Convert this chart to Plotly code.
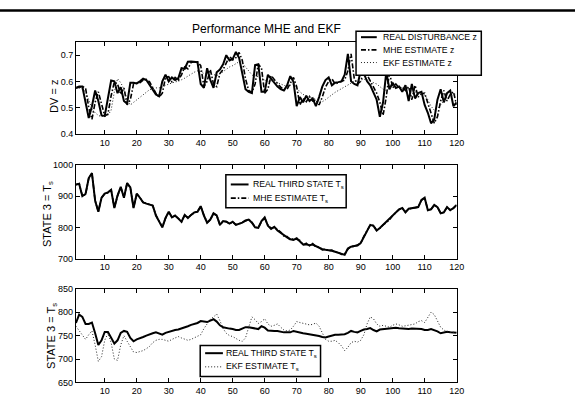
import plotly.graph_objects as go

# Sample index (time steps)
steps = list(range(1, 121))

# Disturbance z: true value, MHE estimate, EKF estimate
z_real = [0.575, 0.580, 0.580, 0.520, 0.460, 0.505, 0.565, 0.525, 0.470, 0.468,
          0.530, 0.603, 0.600, 0.555, 0.578, 0.525, 0.515, 0.595, 0.595, 0.592,
          0.600, 0.610, 0.605, 0.585, 0.565, 0.550, 0.543, 0.600, 0.625, 0.600,
          0.615, 0.605, 0.612, 0.650, 0.648, 0.675, 0.676, 0.675, 0.673, 0.590,
          0.575, 0.650, 0.605, 0.575, 0.635, 0.645, 0.665, 0.700, 0.680, 0.685,
          0.712, 0.690, 0.630, 0.570, 0.560, 0.555, 0.662, 0.665, 0.560, 0.560,
          0.625, 0.610, 0.595, 0.580, 0.570, 0.565, 0.585, 0.620, 0.598, 0.505,
          0.540, 0.520, 0.545, 0.525, 0.535, 0.505, 0.540, 0.580, 0.605, 0.615,
          0.585, 0.595, 0.597, 0.600, 0.625, 0.705, 0.600, 0.590, 0.585, 0.640,
          0.630, 0.600, 0.585, 0.560, 0.530, 0.465, 0.520, 0.635, 0.570, 0.595,
          0.575, 0.580, 0.560, 0.585, 0.525, 0.590, 0.535, 0.555, 0.560, 0.510,
          0.480, 0.440, 0.455, 0.530, 0.570, 0.520, 0.555, 0.565, 0.505, 0.520]

z_mhe = [0.575, 0.578, 0.580, 0.575, 0.500, 0.455, 0.520, 0.560, 0.515, 0.468,
         0.475, 0.545, 0.598, 0.590, 0.550, 0.575, 0.510, 0.530, 0.590, 0.592,
         0.595, 0.605, 0.608, 0.598, 0.575, 0.555, 0.540, 0.555, 0.615, 0.618,
         0.598, 0.615, 0.605, 0.625, 0.655, 0.648, 0.672, 0.675, 0.675, 0.660,
         0.580, 0.600, 0.645, 0.590, 0.580, 0.630, 0.645, 0.668, 0.695, 0.682,
         0.690, 0.710, 0.680, 0.610, 0.565, 0.558, 0.590, 0.665, 0.650, 0.555,
         0.570, 0.622, 0.605, 0.592, 0.578, 0.568, 0.570, 0.592, 0.615, 0.580,
         0.510, 0.535, 0.522, 0.542, 0.525, 0.530, 0.510, 0.540, 0.578, 0.600,
         0.610, 0.590, 0.595, 0.598, 0.605, 0.640, 0.705, 0.610, 0.590, 0.600,
         0.635, 0.625, 0.600, 0.580, 0.555, 0.520, 0.470, 0.540, 0.635, 0.575,
         0.590, 0.575, 0.578, 0.565, 0.580, 0.530, 0.585, 0.540, 0.553, 0.555,
         0.515, 0.475, 0.440, 0.465, 0.525, 0.565, 0.525, 0.550, 0.560, 0.510]

z_ekf = [0.575, 0.575, 0.570, 0.560, 0.530, 0.495, 0.480, 0.470, 0.465, 0.468,
         0.470, 0.490, 0.560, 0.610, 0.595, 0.570, 0.530, 0.510, 0.520, 0.530,
         0.540, 0.550, 0.560, 0.568, 0.572, 0.575, 0.575, 0.578, 0.585, 0.590,
         0.595, 0.598, 0.600, 0.605, 0.612, 0.620, 0.628, 0.635, 0.640, 0.638,
         0.630, 0.628, 0.630, 0.625, 0.622, 0.628, 0.638, 0.648, 0.655, 0.660,
         0.668, 0.675, 0.670, 0.655, 0.640, 0.625, 0.615, 0.620, 0.615, 0.605,
         0.600, 0.602, 0.600, 0.595, 0.588, 0.582, 0.580, 0.585, 0.590, 0.575,
         0.560, 0.550, 0.545, 0.540, 0.535, 0.530, 0.525, 0.522, 0.530, 0.540,
         0.550, 0.558, 0.565, 0.572, 0.580, 0.588, 0.595, 0.600, 0.602, 0.605,
         0.608, 0.605, 0.600, 0.595, 0.590, 0.580, 0.570, 0.565, 0.575, 0.580,
         0.585, 0.578, 0.575, 0.578, 0.570, 0.565, 0.560, 0.555, 0.552, 0.548,
         0.530, 0.505, 0.490, 0.495, 0.510, 0.525, 0.535, 0.545, 0.548, 0.552]

# Third state Ts with MHE running
ts_real_mhe = [937, 940, 900, 907, 958, 974, 885, 850, 895, 908,
               912, 920, 862, 902, 930, 895, 942, 928, 862, 908,
               895, 880, 876, 874, 870, 838, 820, 800, 830, 850,
               832, 838, 828, 818, 840, 830, 840, 848, 850, 868,
               838, 815, 825, 845, 838, 808, 820, 818, 812, 818,
               808, 812, 815, 822, 825, 815, 800, 798, 820, 832,
               805, 795, 802, 790, 782, 775, 768, 762, 760, 765,
               755, 745, 746, 743, 745, 740, 735, 730, 728, 727,
               725, 722, 718, 715, 712, 732, 738, 740, 742, 750,
               770, 792, 808, 805, 790, 798, 808, 815, 825, 838,
               848, 858, 862, 848, 860, 862, 862, 865, 888, 895,
               855, 858, 872, 865, 845, 848, 865, 855, 862, 872]

ts_mhe = [937, 940, 901, 906, 957, 973, 886, 851, 894, 908,
          911, 920, 863, 901, 929, 896, 941, 928, 863, 907,
          896, 880, 877, 873, 870, 839, 821, 801, 829, 850,
          833, 837, 829, 818, 839, 831, 840, 847, 851, 867,
          839, 816, 824, 844, 838, 809, 819, 819, 811, 818,
          809, 811, 816, 821, 825, 816, 801, 799, 819, 830,
          807, 797, 800, 793, 785, 772, 771, 760, 763, 762,
          758, 743, 749, 741, 748, 738, 737, 728, 731, 725,
          727, 720, 721, 713, 714, 730, 739, 739, 743, 749,
          771, 791, 807, 806, 790, 797, 808, 815, 824, 838,
          848, 857, 862, 849, 859, 862, 863, 865, 887, 894,
          856, 858, 871, 865, 846, 848, 864, 856, 861, 872]

# Third state Ts with EKF running
ts_real_ekf = [777, 795, 790, 775, 775, 778, 755, 730, 740, 758,
               758, 745, 733, 740, 756, 760, 758, 745, 738, 742,
               744, 747, 750, 753, 755, 757, 755, 752, 756, 758,
               761, 762, 763, 765, 768, 770, 773, 775, 777, 781,
               780, 779, 782, 785, 780, 772, 768, 766, 765, 764,
               762, 762, 765, 768, 768, 767, 765, 764, 770, 767,
               761, 760, 760, 760, 758, 757, 757, 757, 760, 758,
               756, 755, 754, 753, 752, 751, 749, 747, 746, 748,
               750, 752, 752, 752, 753, 756, 760, 758, 757, 760,
               763, 764, 766, 762, 759, 763, 764, 765, 766, 767,
               767, 766, 765, 764, 764, 765, 765, 765, 764, 762,
               762, 764, 762, 759, 755, 757, 758, 757, 756, 756]

ts_ekf = [770, 760, 752, 742, 752, 760, 730, 695, 705, 740,
          755, 735, 700, 697, 730, 750, 738, 725, 715, 714,
          716, 718, 722, 727, 735, 740, 742, 742, 740, 738,
          742, 745, 748, 745, 742, 740, 742, 745, 748, 752,
          765, 775, 785, 790, 796, 782, 765, 755, 750, 748,
          744, 740, 738, 745, 768, 790, 784, 776, 780, 786,
          775, 770, 772, 775, 768, 762, 760, 762, 770, 780,
          778, 776, 775, 773, 774, 777, 770, 755, 742, 738,
          738, 740, 735, 728, 718, 725, 735, 738, 736, 740,
          752, 775, 790, 786, 775, 770, 772, 770, 768, 772,
          775, 773, 770, 771, 772, 773, 775, 780, 782, 778,
          788, 800, 795, 780, 768, 762, 758, 757, 757, 757]

x_ticks = list(range(10, 121, 10))
W, H = 583, 405
FONT = "Liberation Sans, Arial, sans-serif"


def px_x(p):
    return p / W


def px_y(p):
    return 1 - p / H


solid = dict(color="black", width=2)
dashdot = dict(color="black", width=1.6, dash="5px,2px,1.5px,2px")
dotted = dict(color="#222222", width=1, dash="1px,2px")

fig = go.Figure()

series = [
    (z_real, solid, "x", "y"),
    (z_mhe, dashdot, "x", "y"),
    (z_ekf, dotted, "x", "y"),
    (ts_real_mhe, solid, "x2", "y2"),
    (ts_mhe, dashdot, "x2", "y2"),
    (ts_real_ekf, solid, "x3", "y3"),
    (ts_ekf, dotted, "x3", "y3"),
]
for vals, ln, xa, ya in series:
    fig.add_trace(go.Scatter(x=steps, y=vals, mode="lines", line=ln,
                             xaxis=xa, yaxis=ya, showlegend=False, hoverinfo="skip"))

axis_style = dict(showline=True, linecolor="black", linewidth=1, mirror="ticks",
                  ticks="inside", ticklen=4, tickcolor="black", tickwidth=1,
                  showgrid=False, zeroline=False,
                  tickfont=dict(family=FONT, size=9, color="black"))

x_dom = [px_x(77), px_x(463)]
panels = [  # (top px, bottom px)
    (38, 132),
    (164, 260),
    (291, 387),
]

layout = dict(
    width=W, height=H,
    margin=dict(l=0, r=0, t=0, b=0),
    paper_bgcolor="white", plot_bgcolor="white",
    font=dict(family=FONT, color="black"),
    showlegend=False,
)

y_specs = [
    dict(range=[0.4, 0.75], tickvals=[0.4, 0.5, 0.6, 0.7], ticktext=["0.4", "0.5", "0.6", "0.7"]),
    dict(range=[700, 1000], tickvals=[700, 800, 900, 1000]),
    dict(range=[650, 850], tickvals=[650, 700, 750, 800, 850]),
]

for i, ((top, bot), spec) in enumerate(zip(panels, y_specs), start=1):
    sfx = "" if i == 1 else str(i)
    layout["xaxis" + sfx] = dict(axis_style, domain=x_dom, range=[1, 120], tickvals=x_ticks,
                                 anchor="y" + sfx)
    ydict = dict(axis_style, domain=[px_y(bot), px_y(top)], range=spec["range"],
                 tickvals=spec["tickvals"], anchor="x" + sfx)
    if "ticktext" in spec:
        ydict["ticktext"] = spec["ticktext"]
    layout["yaxis" + sfx] = ydict

fig.update_layout(**layout)

# Axis titles (rotated)
y_titles = [
    ("DV = z", 54, 94),
    ("STATE 3 = T<sub>s</sub>", 48, 214),
    ("STATE 3 = T<sub>s</sub>", 52, 339),
]
for text, xp, yp in y_titles:
    fig.add_annotation(text=text, xref="paper", yref="paper", x=px_x(xp), y=px_y(yp),
                       textangle=-90, showarrow=False, xanchor="center", yanchor="middle",
                       font=dict(family=FONT, size=11, color="black"))

fig.add_annotation(text="Performance MHE and EKF", xref="paper", yref="paper",
                   x=px_x(270), y=px_y(25), showarrow=False,
                   xanchor="center", yanchor="middle",
                   font=dict(family=FONT, size=12, color="black"))

# Legend boxes: (left, top, right, bottom) px, sample x-span, text x, entries
legends = [
    ((361, 27, 488, 72), (366, 382), 386,
     [("REAL DISTURBANCE z", solid, 33), ("MHE ESTIMATE z", dashdot, 46),
      ("EKF ESTIMATE z", dotted, 59)]),
    ((229, 174, 351, 208), (234, 252), 254,
     [("REAL THIRD STATE T<sub>s</sub>", solid, 184), ("MHE ESTIMATE T<sub>s</sub>", dashdot, 198)]),
    ((203, 349, 325, 381), (208, 226), 227,
     [("REAL THIRD STATE T<sub>s</sub>", solid, 357), ("EKF ESTIMATE T<sub>s</sub>", dotted, 371)]),
]
for (l, t, r, b), (sx0, sx1), tx, entries in legends:
    fig.add_shape(type="rect", xref="paper", yref="paper",
                  x0=px_x(l), x1=px_x(r), y0=px_y(b), y1=px_y(t),
                  fillcolor="white", line=dict(color="black", width=1.5), layer="above")
    for label, ln, yc in entries:
        fig.add_shape(type="line", xref="paper", yref="paper",
                      x0=px_x(sx0), x1=px_x(sx1), y0=px_y(yc), y1=px_y(yc),
                      line=ln, layer="above")
        fig.add_annotation(text=label, xref="paper", yref="paper",
                           x=px_x(tx), y=px_y(yc), xanchor="left", yanchor="middle",
                           showarrow=False, font=dict(family=FONT, size=8.7, color="black"))

# Heavy rule across the top of the page
fig.add_shape(type="rect", xref="paper", yref="paper",
              x0=0, x1=1, y0=px_y(6.8), y1=px_y(4.3),
              fillcolor="black", line=dict(width=0))

fig.write_html("out.html")
